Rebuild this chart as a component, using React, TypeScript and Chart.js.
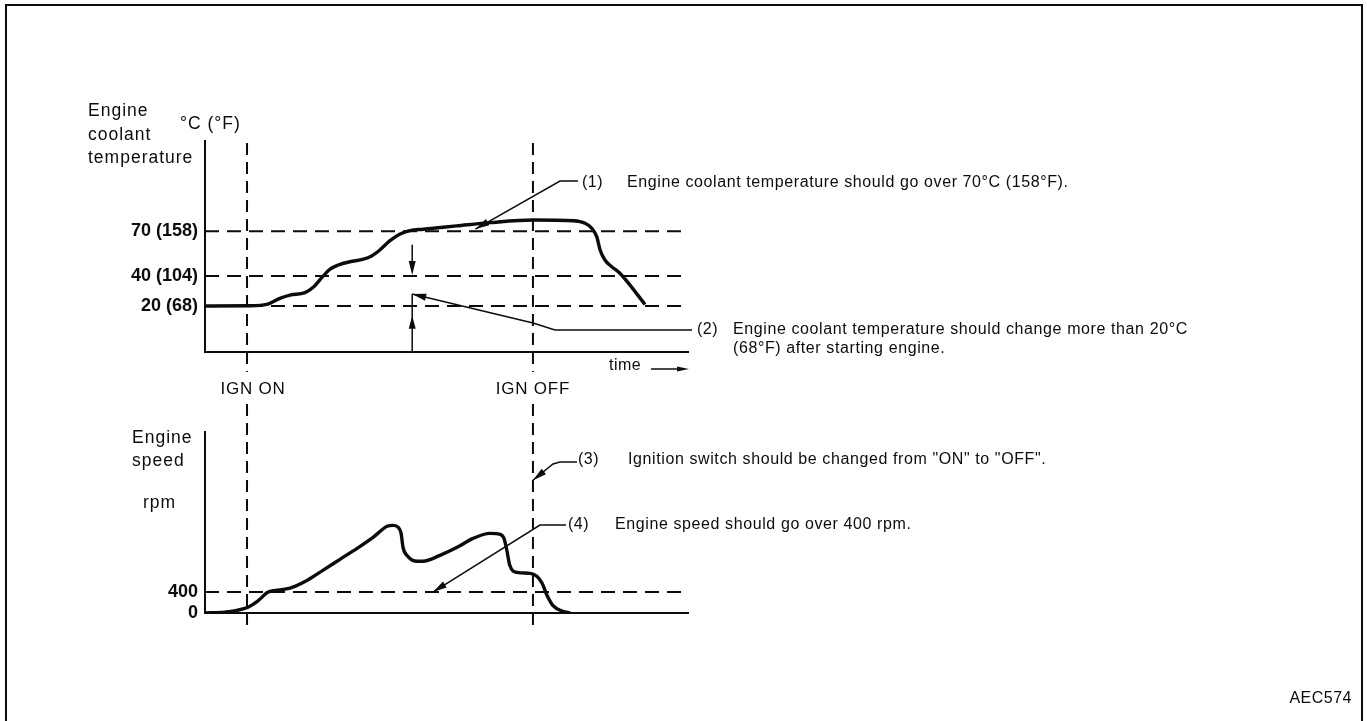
import React, { useEffect, useRef } from 'react';
import { Chart, registerables } from 'chart.js';

Chart.register(...registerables);

// ---------- data ----------
const TIME_MIN = 0;
const TIME_MAX = 100;
const IGN_ON_TIME = 8.7;
const IGN_OFF_TIME = 67.9;

// Engine coolant temperature curve (°C)
const TEMP_TIME = [0, 9.3, 12.8, 15.5, 17.6, 20.7, 22.4, 24.5, 25.9, 27.6, 30.0, 32.8, 34.5, 36.2, 38.3, 40.4, 42.4, 45.2, 52.1, 59.0, 68.0, 76.3, 78.7, 80.1, 81.1, 81.8, 82.8, 84.2, 85.9, 91.1];
const TEMP_VALUES = [20, 20.1, 21.0, 25.1, 27.3, 28.9, 32.5, 40.1, 44.6, 47.4, 49.6, 51.3, 53.5, 57.5, 63.7, 68.2, 70.4, 71.4, 73.6, 75.8, 77.6, 77.1, 75.4, 72.0, 66.4, 57.5, 50.8, 46.3, 41.9, 21.0];
const TEMP_REF_LINES = [70, 40, 20];
const TEMP_TICKS = [20, 40, 70];
const TEMP_TICK_LABELS = ['20 (68)', '40 (104)', '70 (158)'];
const TEMP_MIN = -10.86;
const TEMP_MAX = 130.5;

// Engine speed curve (rpm)
const SPEED_TIME = [0, 4.0, 6.6, 8.9, 10.7, 13.0, 14.6, 17.6, 21.1, 24.4, 27.95, 31.5, 34.8, 37.7, 39.0, 40.0, 40.6, 41.0, 42.0, 43.9, 45.1, 48.65, 52.2, 55.5, 59.0, 61.1, 61.9, 62.5, 63.1, 64.6, 67.3, 68.7, 69.8, 70.8, 72.0, 74.1, 75.6];
const SPEED_VALUES = [0, 15, 51, 109, 210, 394, 430, 475, 620, 813, 1023, 1233, 1442, 1652, 1671, 1633, 1518, 1252, 1080, 985, 985, 1099, 1252, 1423, 1518, 1499, 1423, 1194, 909, 775, 756, 699, 566, 337, 147, 32, 4];
const SPEED_REF_LINES = [400];
const SPEED_TICKS = [0, 400];
const SPEED_TICK_LABELS = ['0', '400'];
const SPEED_MIN = 0;
const SPEED_MAX = 3450;

// Annotation texts
const NOTE_1 = 'Engine coolant temperature should go over 70°C (158°F).';
const NOTE_2 = ['Engine coolant temperature should change more than 20°C', '(68°F) after starting engine.'];
const NOTE_3 = 'Ignition switch should be changed from "ON" to "OFF".';
const NOTE_4 = 'Engine speed should go over 400 rpm.';
const TEMP_AXIS_TITLE = ['Engine', 'coolant', 'temperature'];
const TEMP_UNIT = '°C (°F)';
const SPEED_AXIS_TITLE = ['Engine', 'speed'];
const SPEED_UNIT = 'rpm';
const FIG_ID = 'AEC574';

// anchor points of the annotation arrows (data coordinates)
const NOTE1_TIP = { t: 56.0, v: 71.5 };
const NOTE2_TIP = { t: 42.9, v: 28.0 };
const NOTE3_TIP = { t: IGN_OFF_TIME, v: 2530 };
const NOTE4_TIP = { t: 47.2, v: 400 };

// ---------- drawing helpers ----------
const W = 1367;
const H = 721;
const FONT = '"Liberation Sans", Arial, Helvetica, sans-serif';
const INK = '#0c0c0c';

function drawText(ctx: CanvasRenderingContext2D, s: string, x: number, y: number, size: number, align: CanvasTextAlign = 'left', spacing = '0.5px', weight = 'normal') {
  ctx.save();
  ctx.font = `${weight} ${size}px ${FONT}`;
  ctx.fillStyle = INK;
  ctx.textAlign = align;
  ctx.textBaseline = 'middle';
  (ctx as any).letterSpacing = spacing;
  ctx.fillText(s, x, y);
  ctx.restore();
}

function poly(ctx: CanvasRenderingContext2D, pts: number[][], width = 1.5, dash: number[] = []) {
  ctx.save();
  ctx.strokeStyle = INK;
  ctx.lineWidth = width;
  ctx.setLineDash(dash);
  ctx.beginPath();
  pts.forEach((p, i) => (i === 0 ? ctx.moveTo(p[0], p[1]) : ctx.lineTo(p[0], p[1])));
  ctx.stroke();
  ctx.restore();
}

function arrowHead(ctx: CanvasRenderingContext2D, tipX: number, tipY: number, fromX: number, fromY: number, len = 12, half = 3.5) {
  const a = Math.atan2(tipY - fromY, tipX - fromX);
  const bx = tipX - len * Math.cos(a);
  const by = tipY - len * Math.sin(a);
  ctx.save();
  ctx.fillStyle = INK;
  ctx.beginPath();
  ctx.moveTo(tipX, tipY);
  ctx.lineTo(bx + half * Math.sin(a), by - half * Math.cos(a));
  ctx.lineTo(bx - half * Math.sin(a), by + half * Math.cos(a));
  ctx.closePath();
  ctx.fill();
  ctx.restore();
}

const topOverlay = {
  id: 'topOverlay',
  afterDraw(chart: any) {
    const ctx: CanvasRenderingContext2D = chart.ctx;
    const xs = chart.scales.x;
    const ys = chart.scales.y;
    // frame
    ctx.save();
    ctx.strokeStyle = INK;
    ctx.lineWidth = 2;
    ctx.strokeRect(6, 5, 1356, 740);
    ctx.restore();

    // IGN ON / IGN OFF vertical dashed lines
    [IGN_ON_TIME, IGN_OFF_TIME].forEach((t) => {
      const px = xs.getPixelForValue(t);
      poly(ctx, [[px, 143], [px, 372]], 2, [12, 7]);
      poly(ctx, [[px, 404], [px, 628]], 2, [12, 7]);
    });
    drawText(ctx, 'IGN ON', xs.getPixelForValue(IGN_ON_TIME) + 6, 389, 17, 'center', '0.8px');
    drawText(ctx, 'IGN OFF', xs.getPixelForValue(IGN_OFF_TIME), 389, 17, 'center', '0.8px');

    // axis titles
    drawText(ctx, TEMP_AXIS_TITLE[0], 88, 111, 17.5, 'left', '1px');
    drawText(ctx, TEMP_AXIS_TITLE[1], 88, 135, 17.5, 'left', '1px');
    drawText(ctx, TEMP_AXIS_TITLE[2], 88, 158, 17.5, 'left', '1px');
    drawText(ctx, TEMP_UNIT, 180, 124, 17.5, 'left', '1px');

    // time arrow
    drawText(ctx, 'time', 609, 366, 16, 'left', '0.5px');
    poly(ctx, [[651, 369], [680, 369]], 1.5);
    arrowHead(ctx, 689, 369, 651, 369, 12, 2.5);

    // note (1)
    const t1x = xs.getPixelForValue(NOTE1_TIP.t);
    const t1y = ys.getPixelForValue(NOTE1_TIP.v);
    poly(ctx, [[t1x, t1y], [560, 181], [578, 181]], 1.5);
    arrowHead(ctx, t1x, t1y, 560, 181, 14, 3.5);
    drawText(ctx, '(1)', 582, 183, 16, 'left', '0.5px');
    drawText(ctx, NOTE_1, 627, 183, 16, 'left', '0.6px');

    // note (2): dimension arrows + leader
    const dx = xs.getPixelForValue(NOTE2_TIP.t);
    const tip2y = ys.getPixelForValue(NOTE2_TIP.v);
    const upTop = ys.getPixelForValue(61);
    const downTip = ys.getPixelForValue(40.8);
    poly(ctx, [[dx, upTop], [dx, downTip - 4]], 1.5);
    arrowHead(ctx, dx, downTip, dx, upTop, 14, 3.5);
    poly(ctx, [[dx, ys.bottom], [dx, tip2y]], 1.5);
    const upArrowTip = ys.getPixelForValue(13.5);
    arrowHead(ctx, dx, upArrowTip, dx, ys.bottom, 13, 3.5);
    poly(ctx, [[dx, tip2y], [533, 323], [555, 330], [692, 330]], 1.5);
    arrowHead(ctx, dx, tip2y, 533, 323, 14, 3.5);
    drawText(ctx, '(2)', 697, 330, 16, 'left', '0.5px');
    drawText(ctx, NOTE_2[0], 733, 330, 16, 'left', '0.6px');
    drawText(ctx, NOTE_2[1], 733, 349, 16, 'left', '0.6px');
  },
};

const bottomOverlay = {
  id: 'bottomOverlay',
  afterDraw(chart: any) {
    const ctx: CanvasRenderingContext2D = chart.ctx;
    const xs = chart.scales.x;
    const ys = chart.scales.y;
    drawText(ctx, SPEED_AXIS_TITLE[0], 132, 438, 17.5, 'left', '1px');
    drawText(ctx, SPEED_AXIS_TITLE[1], 132, 461, 17.5, 'left', '1px');
    drawText(ctx, SPEED_UNIT, 143, 503, 17.5, 'left', '1px');

    // note (3)
    const t3x = xs.getPixelForValue(NOTE3_TIP.t);
    const t3y = ys.getPixelForValue(NOTE3_TIP.v);
    poly(ctx, [[t3x, t3y], [553, 464], [560, 462], [577, 462]], 1.5);
    arrowHead(ctx, t3x, t3y, 553, 464, 14, 3.5);
    drawText(ctx, '(3)', 578, 460, 16, 'left', '0.5px');
    drawText(ctx, NOTE_3, 628, 460, 16, 'left', '0.6px');

    // note (4)
    const t4x = xs.getPixelForValue(NOTE4_TIP.t);
    const t4y = ys.getPixelForValue(NOTE4_TIP.v);
    poly(ctx, [[t4x, t4y], [540, 525], [566, 525]], 1.5);
    arrowHead(ctx, t4x, t4y, 540, 525, 14, 3.5);
    drawText(ctx, '(4)', 568, 525, 16, 'left', '0.5px');
    drawText(ctx, NOTE_4, 615, 525, 16, 'left', '0.6px');

    drawText(ctx, FIG_ID, 1352, 699, 16, 'right', '0.5px');
  },
};

function refLine(v: number) {
  return {
    data: [{ x: TIME_MIN, y: v }, { x: TIME_MAX, y: v }],
    borderColor: INK,
    borderWidth: 2,
    borderDash: [14, 8],
    pointRadius: 0,
    fill: false,
  };
}

function makeConfig(opts: {
  times: number[]; values: number[]; refs: number[]; ticks: number[]; labels: string[];
  min: number; max: number; top: number; bottom: number; plugin: any;
}): any {
  return {
    type: 'line',
    data: {
      datasets: [
        {
          data: opts.times.map((t, i) => ({ x: t, y: opts.values[i] })),
          borderColor: INK,
          borderWidth: 3.4,
          pointRadius: 0,
          cubicInterpolationMode: 'monotone',
          fill: false,
        },
        ...opts.refs.map(refLine),
      ],
    },
    options: {
      animation: false,
      responsive: false,
      devicePixelRatio: 1,
      events: [],
      layout: { padding: { left: 0, right: W - 688, top: opts.top, bottom: H - opts.bottom } },
      plugins: { legend: { display: false }, tooltip: { enabled: false } },
      scales: {
        x: {
          type: 'linear',
          min: TIME_MIN,
          max: TIME_MAX,
          grid: { display: false, drawTicks: false },
          border: { display: true, color: INK, width: 2 },
          ticks: { display: false },
          afterFit: (s: any) => { s.height = 0; },
        },
        y: {
          type: 'linear',
          min: opts.min,
          max: opts.max,
          grid: { display: false, drawTicks: false },
          border: { display: true, color: INK, width: 2 },
          afterBuildTicks: (s: any) => { s.ticks = opts.ticks.map((v) => ({ value: v })); },
          afterFit: (s: any) => { s.width = 205; },
          ticks: {
            autoSkip: false,
            padding: 7,
            color: INK,
            font: { family: FONT, size: 18, weight: 'bold' },
            callback: (value: number) => {
              const i = opts.ticks.indexOf(value);
              return i >= 0 ? opts.labels[i] : '';
            },
          },
        },
      },
    },
    plugins: [opts.plugin],
  };
}

export default function App() {
  const refA = useRef<HTMLCanvasElement>(null);
  const refB = useRef<HTMLCanvasElement>(null);

  useEffect(() => {
    const a = new Chart(refA.current as HTMLCanvasElement, makeConfig({
      times: TEMP_TIME, values: TEMP_VALUES, refs: TEMP_REF_LINES, ticks: TEMP_TICKS, labels: TEMP_TICK_LABELS,
      min: TEMP_MIN, max: TEMP_MAX, top: 141, bottom: 352, plugin: topOverlay,
    }));
    const b = new Chart(refB.current as HTMLCanvasElement, makeConfig({
      times: SPEED_TIME, values: SPEED_VALUES, refs: SPEED_REF_LINES, ticks: SPEED_TICKS, labels: SPEED_TICK_LABELS,
      min: SPEED_MIN, max: SPEED_MAX, top: 432, bottom: 613, plugin: bottomOverlay,
    }));
    return () => { a.destroy(); b.destroy(); };
  }, []);

  return (
    <div style={{ position: 'absolute', left: 0, top: 0, width: W, height: H, background: '#fff', overflow: 'hidden' }}>
      <canvas ref={refA} width={W} height={H} style={{ position: 'absolute', left: 0, top: 0 }} />
      <canvas ref={refB} width={W} height={H} style={{ position: 'absolute', left: 0, top: 0 }} />
    </div>
  );
}
